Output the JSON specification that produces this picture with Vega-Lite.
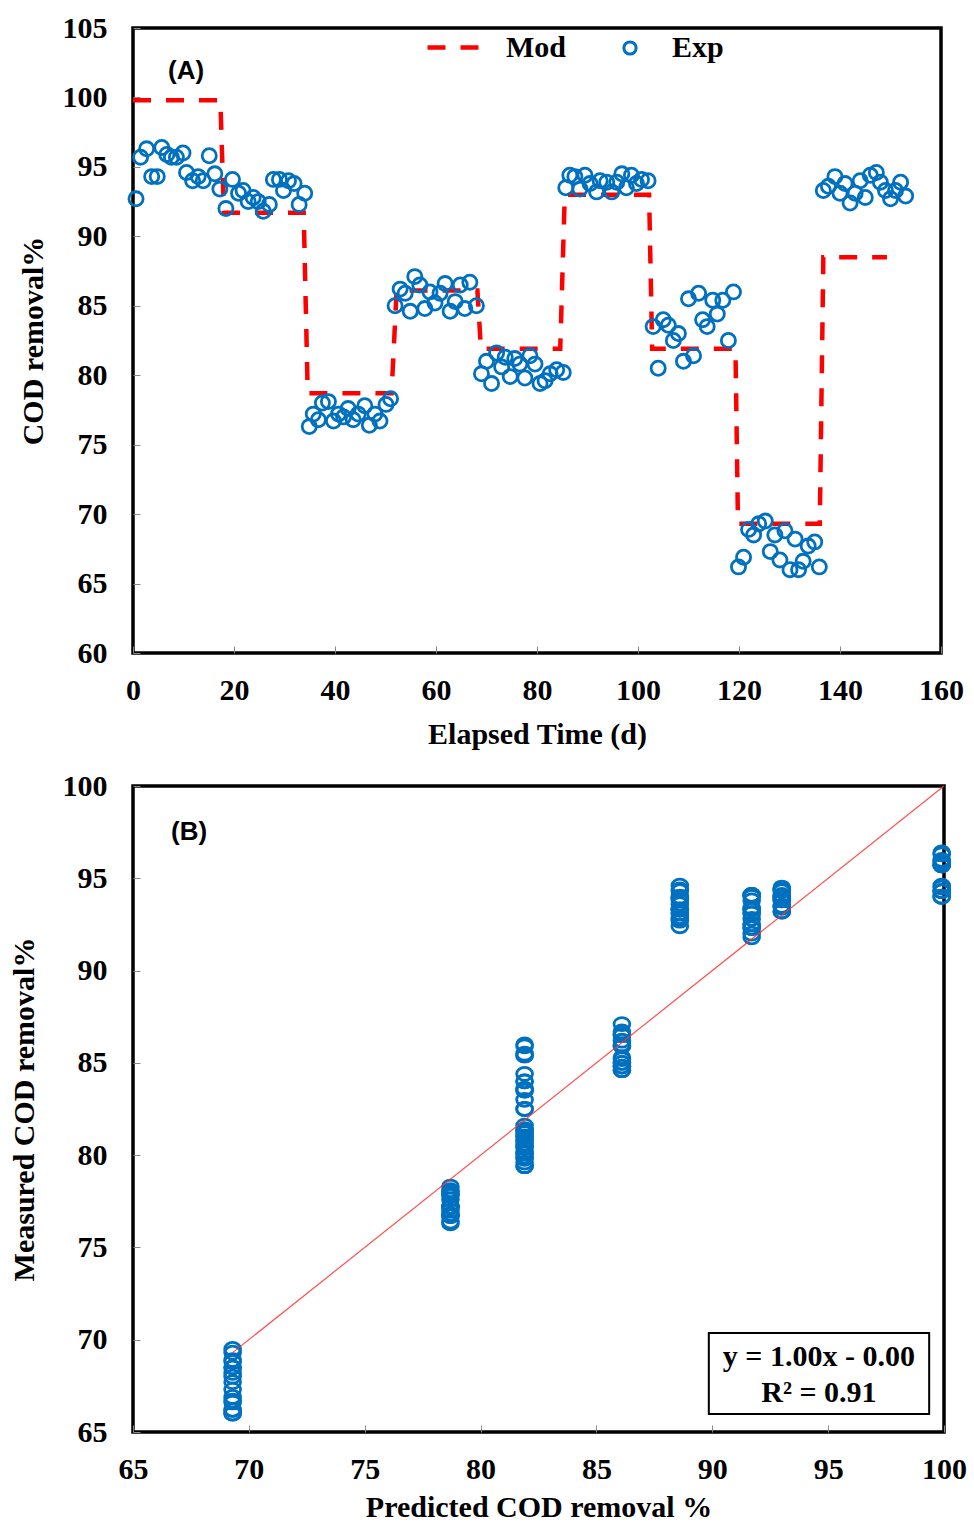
{
  "$schema": "https://vega.github.io/schema/vega-lite/v6.json",
  "padding": {"left": 7, "top": 11, "right": 5, "bottom": 0},
  "background": "white",
  "config": {
    "font": "Liberation Serif",
    "view": {"stroke": "black", "strokeWidth": 3.5},
    "axis": {
      "labelFont": "Liberation Serif", "labelFontWeight": "bold", "labelFontSize": 30, "labelColor": "black",
      "titleFont": "Liberation Serif", "titleFontWeight": "bold", "titleFontSize": 30, "titleColor": "black",
      "grid": false, "domain": false, "tickColor": "#888888", "tickSize": -7, "tickWidth": 1,
      "labelPadding": 33, "labelFlush": false, "labelOverlap": false
    },
    "axisX": {"labelPadding": 29},
    "legend": {"labelFont": "Liberation Serif", "labelFontWeight": "bold", "labelFontSize": 30, "labelColor": "black", "padding": 0}
  },
  "datasets": {
    "exp": [
      {"day": 0.6, "exp": 92.7, "mod": null},
      {"day": 1.5, "exp": 95.7, "mod": 99.9},
      {"day": 2.7, "exp": 96.3, "mod": 99.9},
      {"day": 3.7, "exp": 94.3, "mod": 99.9},
      {"day": 4.8, "exp": 94.3, "mod": 99.9},
      {"day": 5.7, "exp": 96.4, "mod": 99.9},
      {"day": 6.7, "exp": 95.9, "mod": 99.9},
      {"day": 7.6, "exp": 95.7, "mod": 99.9},
      {"day": 8.6, "exp": 95.7, "mod": 99.9},
      {"day": 9.9, "exp": 96.0, "mod": 99.9},
      {"day": 10.6, "exp": 94.6, "mod": 99.9},
      {"day": 11.8, "exp": 94.0, "mod": 99.9},
      {"day": 12.9, "exp": 94.3, "mod": 99.9},
      {"day": 13.9, "exp": 94.0, "mod": 99.9},
      {"day": 15.1, "exp": 95.8, "mod": 99.9},
      {"day": 16.2, "exp": 94.5, "mod": 99.9},
      {"day": 17.2, "exp": 93.4, "mod": 91.7},
      {"day": 18.4, "exp": 92.0, "mod": 91.7},
      {"day": 19.7, "exp": 94.1, "mod": 91.7},
      {"day": 20.9, "exp": 93.1, "mod": 91.7},
      {"day": 21.8, "exp": 93.3, "mod": 91.7},
      {"day": 22.8, "exp": 92.5, "mod": 91.7},
      {"day": 23.8, "exp": 92.8, "mod": 91.7},
      {"day": 24.8, "exp": 92.5, "mod": 91.7},
      {"day": 25.8, "exp": 91.8, "mod": 91.7},
      {"day": 27.0, "exp": 92.3, "mod": 91.7},
      {"day": 27.8, "exp": 94.1, "mod": 91.7},
      {"day": 29.0, "exp": 94.1, "mod": 91.7},
      {"day": 29.8, "exp": 93.3, "mod": 91.7},
      {"day": 30.8, "exp": 94.0, "mod": 91.7},
      {"day": 31.9, "exp": 93.8, "mod": 91.7},
      {"day": 32.9, "exp": 92.3, "mod": 91.7},
      {"day": 34.0, "exp": 93.1, "mod": 91.7},
      {"day": 34.9, "exp": 76.3, "mod": 78.7},
      {"day": 35.7, "exp": 77.2, "mod": 78.7},
      {"day": 36.7, "exp": 76.8, "mod": 78.7},
      {"day": 37.5, "exp": 78.0, "mod": 78.7},
      {"day": 38.7, "exp": 78.1, "mod": 78.7},
      {"day": 39.7, "exp": 76.7, "mod": 78.7},
      {"day": 40.7, "exp": 77.2, "mod": 78.7},
      {"day": 41.7, "exp": 77.0, "mod": 78.7},
      {"day": 42.6, "exp": 77.6, "mod": 78.7},
      {"day": 43.6, "exp": 76.8, "mod": 78.7},
      {"day": 44.6, "exp": 77.2, "mod": 78.7},
      {"day": 45.9, "exp": 77.8, "mod": 78.7},
      {"day": 46.8, "exp": 76.4, "mod": 78.7},
      {"day": 47.9, "exp": 77.2, "mod": 78.7},
      {"day": 48.9, "exp": 76.7, "mod": 78.7},
      {"day": 50.1, "exp": 77.9, "mod": 78.7},
      {"day": 51.0, "exp": 78.3, "mod": 78.7},
      {"day": 51.9, "exp": 85.0, "mod": 86.1},
      {"day": 52.9, "exp": 86.2, "mod": 86.1},
      {"day": 53.9, "exp": 85.9, "mod": 86.1},
      {"day": 54.9, "exp": 84.6, "mod": 86.1},
      {"day": 55.8, "exp": 87.1, "mod": 86.1},
      {"day": 56.8, "exp": 86.5, "mod": 86.1},
      {"day": 57.8, "exp": 84.8, "mod": 86.1},
      {"day": 58.8, "exp": 86.0, "mod": 86.1},
      {"day": 59.8, "exp": 85.2, "mod": 86.1},
      {"day": 60.8, "exp": 85.9, "mod": 86.1},
      {"day": 61.8, "exp": 86.6, "mod": 86.1},
      {"day": 62.8, "exp": 84.6, "mod": 86.1},
      {"day": 63.8, "exp": 85.3, "mod": 86.1},
      {"day": 64.8, "exp": 86.5, "mod": 86.1},
      {"day": 65.7, "exp": 84.8, "mod": 86.1},
      {"day": 66.7, "exp": 86.7, "mod": 86.1},
      {"day": 68.0, "exp": 85.0, "mod": 86.1},
      {"day": 69.0, "exp": 80.1, "mod": 81.9},
      {"day": 70.0, "exp": 81.0, "mod": 81.9},
      {"day": 71.0, "exp": 79.4, "mod": 81.9},
      {"day": 72.0, "exp": 81.6, "mod": 81.9},
      {"day": 73.0, "exp": 80.6, "mod": 81.9},
      {"day": 73.7, "exp": 81.3, "mod": 81.9},
      {"day": 74.7, "exp": 79.9, "mod": 81.9},
      {"day": 75.6, "exp": 81.2, "mod": 81.9},
      {"day": 76.6, "exp": 80.8, "mod": 81.9},
      {"day": 77.6, "exp": 79.8, "mod": 81.9},
      {"day": 78.6, "exp": 81.4, "mod": 81.9},
      {"day": 79.6, "exp": 80.8, "mod": 81.9},
      {"day": 80.6, "exp": 79.4, "mod": 81.9},
      {"day": 81.6, "exp": 79.6, "mod": 81.9},
      {"day": 82.6, "exp": 80.1, "mod": 81.9},
      {"day": 83.9, "exp": 80.4, "mod": 81.9},
      {"day": 85.2, "exp": 80.2, "mod": 81.9},
      {"day": 85.7, "exp": 93.5, "mod": 93.0},
      {"day": 86.5, "exp": 94.4, "mod": 93.0},
      {"day": 87.5, "exp": 94.3, "mod": 93.0},
      {"day": 88.5, "exp": 93.4, "mod": 93.0},
      {"day": 89.5, "exp": 94.4, "mod": 93.0},
      {"day": 90.5, "exp": 93.8, "mod": 93.0},
      {"day": 91.8, "exp": 93.2, "mod": 93.0},
      {"day": 92.5, "exp": 94.0, "mod": 93.0},
      {"day": 93.8, "exp": 93.9, "mod": 93.0},
      {"day": 94.8, "exp": 93.2, "mod": 93.0},
      {"day": 95.8, "exp": 93.9, "mod": 93.0},
      {"day": 96.8, "exp": 94.5, "mod": 93.0},
      {"day": 97.7, "exp": 93.5, "mod": 93.0},
      {"day": 98.7, "exp": 94.4, "mod": 93.0},
      {"day": 99.7, "exp": 93.8, "mod": 93.0},
      {"day": 100.7, "exp": 94.1, "mod": 93.0},
      {"day": 102.0, "exp": 94.0, "mod": 93.0},
      {"day": 103.0, "exp": 83.5, "mod": 81.9},
      {"day": 104.0, "exp": 80.5, "mod": 81.9},
      {"day": 105.0, "exp": 84.0, "mod": 81.9},
      {"day": 106.0, "exp": 83.6, "mod": 81.9},
      {"day": 107.0, "exp": 82.5, "mod": 81.9},
      {"day": 108.0, "exp": 83.0, "mod": 81.9},
      {"day": 109.0, "exp": 81.0, "mod": 81.9},
      {"day": 110.0, "exp": 85.5, "mod": 81.9},
      {"day": 111.0, "exp": 81.4, "mod": 81.9},
      {"day": 112.0, "exp": 85.9, "mod": 81.9},
      {"day": 112.8, "exp": 84.0, "mod": 81.9},
      {"day": 113.7, "exp": 83.5, "mod": 81.9},
      {"day": 114.8, "exp": 85.4, "mod": 81.9},
      {"day": 115.7, "exp": 84.4, "mod": 81.9},
      {"day": 116.8, "exp": 85.4, "mod": 81.9},
      {"day": 117.9, "exp": 82.5, "mod": 81.9},
      {"day": 118.9, "exp": 86.0, "mod": 81.9},
      {"day": 119.9, "exp": 66.2, "mod": 69.3},
      {"day": 120.9, "exp": 66.9, "mod": 69.3},
      {"day": 121.9, "exp": 68.9, "mod": 69.3},
      {"day": 122.9, "exp": 68.5, "mod": 69.3},
      {"day": 123.9, "exp": 69.3, "mod": 69.3},
      {"day": 125.2, "exp": 69.5, "mod": 69.3},
      {"day": 126.2, "exp": 67.3, "mod": 69.3},
      {"day": 127.1, "exp": 68.5, "mod": 69.3},
      {"day": 128.1, "exp": 66.7, "mod": 69.3},
      {"day": 129.1, "exp": 68.8, "mod": 69.3},
      {"day": 130.1, "exp": 66.0, "mod": 69.3},
      {"day": 131.1, "exp": 68.2, "mod": 69.3},
      {"day": 131.8, "exp": 66.0, "mod": 69.3},
      {"day": 132.7, "exp": 66.6, "mod": 69.3},
      {"day": 133.7, "exp": 67.7, "mod": 69.3},
      {"day": 135.0, "exp": 68.0, "mod": 69.3},
      {"day": 135.9, "exp": 66.2, "mod": 69.3},
      {"day": 136.7, "exp": 93.3, "mod": 88.6},
      {"day": 137.7, "exp": 93.6, "mod": 88.6},
      {"day": 139.0, "exp": 94.3, "mod": 88.6},
      {"day": 140.0, "exp": 93.1, "mod": 88.6},
      {"day": 141.0, "exp": 93.8, "mod": 88.6},
      {"day": 142.0, "exp": 92.4, "mod": 88.6},
      {"day": 143.0, "exp": 93.1, "mod": 88.6},
      {"day": 144.0, "exp": 94.0, "mod": 88.6},
      {"day": 145.0, "exp": 92.8, "mod": 88.6},
      {"day": 146.0, "exp": 94.4, "mod": 88.6},
      {"day": 147.2, "exp": 94.6, "mod": 88.6},
      {"day": 148.0, "exp": 93.9, "mod": 88.6},
      {"day": 149.0, "exp": 93.3, "mod": 88.6},
      {"day": 150.0, "exp": 92.7, "mod": 88.6},
      {"day": 151.0, "exp": 93.3, "mod": 88.6},
      {"day": 152.0, "exp": 93.9, "mod": 88.6},
      {"day": 153.0, "exp": 92.9, "mod": 88.6}
    ],
    "model": [
      {"day": 0, "mod": 99.8},
      {"day": 17.3, "mod": 99.8},
      {"day": 18.0, "mod": 91.7},
      {"day": 33.8, "mod": 91.7},
      {"day": 34.6, "mod": 78.7},
      {"day": 51.2, "mod": 78.7},
      {"day": 52.2, "mod": 86.1},
      {"day": 68.2, "mod": 86.1},
      {"day": 68.9, "mod": 81.9},
      {"day": 84.6, "mod": 81.9},
      {"day": 85.5, "mod": 93.0},
      {"day": 102.2, "mod": 93.0},
      {"day": 102.8, "mod": 81.9},
      {"day": 119.3, "mod": 81.9},
      {"day": 119.8, "mod": 69.3},
      {"day": 136.0, "mod": 69.3},
      {"day": 136.7, "mod": 88.5},
      {"day": 149.3, "mod": 88.5}
    ],
    "fit": [
      {"pred": 69.3, "meas": 69.3},
      {"pred": 100, "meas": 100}
    ],
    "one": [{}]
  },
  "spacing": 18,
  "vconcat": [
    {
      "width": 808,
      "height": 625,
      "layer": [
        {
          "data": {"name": "model"},
          "mark": {"type": "line", "color": "#FF0000", "strokeWidth": 4.5, "strokeCap": "butt"},
          "encoding": {
            "x": {"field": "day", "type": "quantitative", "scale": {"domain": [0, 160], "nice": false},
                  "axis": {"values": [0, 20, 40, 60, 80, 100, 120, 140, 160], "title": "Elapsed Time (d)", "titlePadding": 14}},
            "y": {"field": "mod", "type": "quantitative", "scale": {"domain": [60, 105], "nice": false, "zero": false},
                  "axis": {"values": [60, 65, 70, 75, 80, 85, 90, 95, 100, 105], "title": "COD removal%", "titlePadding": 14}},
            "strokeDash": {"datum": "Mod", "scale": {"domain": ["Mod"], "range": [[18, 15]]},
              "legend": {"orient": "none", "legendX": 292, "legendY": -13, "title": null, "symbolType": "stroke",
                "symbolStrokeColor": "#FF0000", "symbolStrokeWidth": 4.5, "symbolSize": 3600, "labelOffset": 16,
                "encode": {"symbols": {"update": {"strokeDash": {"value": [25, 10]}}}}}}
          }
        },
        {
          "data": {"name": "exp"},
          "mark": {"type": "point", "filled": false, "color": "#0070C0", "strokeWidth": 2.8, "size": 200, "opacity": 1},
          "encoding": {
            "x": {"field": "day", "type": "quantitative"},
            "y": {"field": "exp", "type": "quantitative"},
            "shape": {"datum": "Exp", "scale": {"domain": ["Exp"], "range": ["circle"]},
              "legend": {"orient": "none", "legendX": 482, "legendY": 5, "title": null,
                "symbolStrokeColor": "#0070C0", "symbolFillColor": "white", "symbolStrokeWidth": 3, "symbolSize": 150, "labelOffset": 27}}
          }
        },
        {
          "data": {"name": "one"},
          "mark": {"type": "text", "font": "Liberation Sans", "fontWeight": "bold", "fontSize": 26, "color": "black"},
          "encoding": {"x": {"datum": 10.5}, "y": {"datum": 101.9}, "text": {"value": "(A)"}}
        }
      ]
    },
    {
      "width": 811,
      "height": 646,
      "layer": [
        {
          "data": {"name": "exp"},
          "mark": {"type": "point", "filled": false, "color": "#0070C0", "strokeWidth": 2.8, "size": 250,
                   "shape": "M -1 0 A 1 0.82 0 1 1 1 0 A 1 0.82 0 1 1 -1 0 Z", "opacity": 1},
          "encoding": {
            "x": {"field": "mod", "type": "quantitative", "scale": {"domain": [65, 100], "nice": false, "zero": false},
                  "axis": {"values": [65, 70, 75, 80, 85, 90, 95, 100], "title": "Predicted COD removal %", "titlePadding": 8}},
            "y": {"field": "exp", "type": "quantitative", "scale": {"domain": [65, 100], "nice": false, "zero": false},
                  "axis": {"values": [65, 70, 75, 80, 85, 90, 95, 100], "title": "Measured COD removal%", "titlePadding": 23}}
          }
        },
        {
          "data": {"name": "fit"},
          "mark": {"type": "line", "color": "#FF3030", "strokeWidth": 1.2, "opacity": 0.85},
          "encoding": {
            "x": {"field": "pred", "type": "quantitative"},
            "y": {"field": "meas", "type": "quantitative"}
          }
        },
        {
          "data": {"name": "one"},
          "mark": {"type": "rect", "fill": "white", "stroke": "black", "strokeWidth": 2},
          "encoding": {"x": {"datum": 89.85}, "x2": {"datum": 99.36}, "y": {"datum": 65.98}, "y2": {"datum": 70.37}}
        },
        {
          "data": {"name": "one"},
          "mark": {"type": "text", "font": "Liberation Serif", "fontWeight": "bold", "fontSize": 30, "color": "black"},
          "encoding": {"x": {"datum": 94.6}, "y": {"datum": 69.07}, "text": {"value": "y = 1.00x - 0.00"}}
        },
        {
          "data": {"name": "one"},
          "mark": {"type": "text", "font": "Liberation Serif", "fontWeight": "bold", "fontSize": 30, "color": "black"},
          "encoding": {"x": {"datum": 94.6}, "y": {"datum": 67.12}, "text": {"value": "R² = 0.91"}}
        },
        {
          "data": {"name": "one"},
          "mark": {"type": "text", "font": "Liberation Sans", "fontWeight": "bold", "fontSize": 26, "color": "black"},
          "encoding": {"x": {"datum": 67.42}, "y": {"datum": 97.5}, "text": {"value": "(B)"}}
        }
      ]
    }
  ]
}
